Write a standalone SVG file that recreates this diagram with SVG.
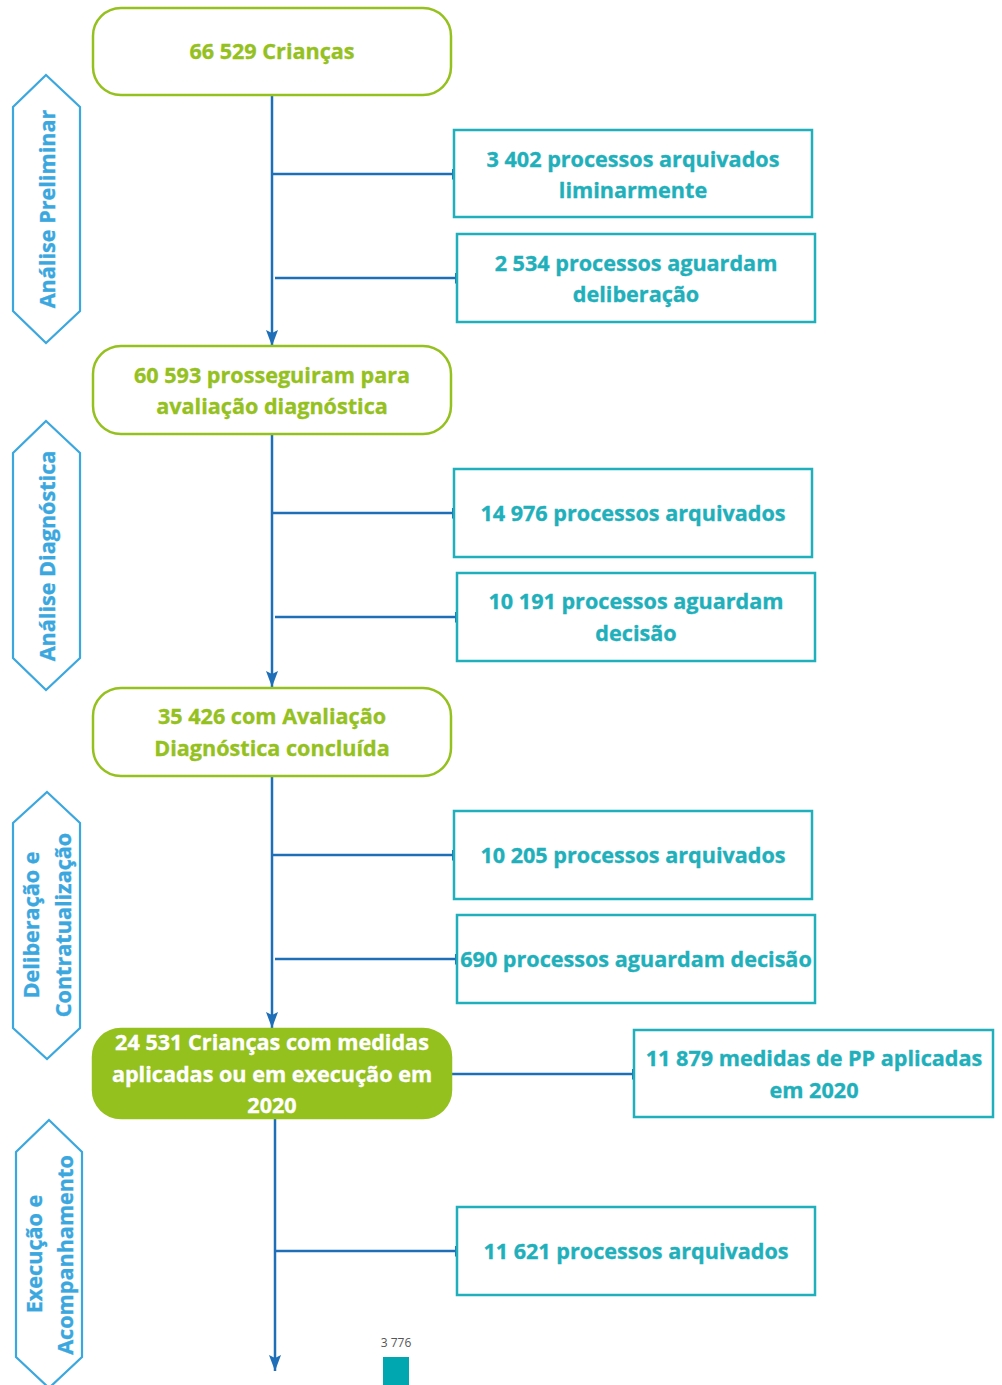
<svg xmlns="http://www.w3.org/2000/svg" width="1002" height="1385" viewBox="0 0 1002 1385">
<style>
  .gbox { fill: #ffffff; stroke: #95c11f; stroke-width: 2.5; }
  .gfill { fill: #95c11f; stroke: #95c11f; stroke-width: 2.5; }
  .tbox { fill: #ffffff; stroke: #1fb0bb; stroke-width: 2.5; }
  .hex { fill: #ffffff; stroke: #3aa7df; stroke-width: 2.2; }
  .gt, .wt, .tt, .ht { font-family: "Open Sans", "Noto Sans", sans-serif; font-weight: bold; font-size: 21.6px; text-anchor: middle; stroke-width: 0.35; }
  .gt { fill: #95c11f; stroke: #95c11f; }
  .wt { fill: #ffffff; stroke: #ffffff; }
  .tt { fill: #1fb0bb; stroke: #1fb0bb; }
  .ht { fill: #3aa7df; stroke: #3aa7df; }
  .small { font-family: "Open Sans", "Noto Sans", sans-serif; font-size: 12px; fill: #555555; text-anchor: middle; }
  .conn { stroke: #1f6fb8; stroke-width: 2.5; fill: none; }
</style>
<defs>
  <marker id="arrow" viewBox="0 0 16 12" refX="16" refY="6" markerWidth="16" markerHeight="12" markerUnits="userSpaceOnUse" orient="auto">
    <path d="M0,0 L16,6 L0,12 L3,6 z" fill="#1f6fb8"/>
  </marker>
  <marker id="tick" viewBox="0 0 3 11" refX="3" refY="5.5" markerWidth="3" markerHeight="11" markerUnits="userSpaceOnUse" orient="auto">
    <rect x="0" y="0" width="3" height="11" fill="#1f6fb8"/>
  </marker>
</defs>
<rect width="1002" height="1385" fill="#ffffff"/>

<g id="connectors">
  <line class="conn" x1="272" y1="95" x2="272" y2="346" marker-end="url(#arrow)"/>
  <line class="conn" x1="272" y1="174" x2="455" y2="174" marker-end="url(#tick)"/>
  <line class="conn" x1="275" y1="278" x2="458" y2="278" marker-end="url(#tick)"/>
  <line class="conn" x1="272" y1="434" x2="272" y2="687" marker-end="url(#arrow)"/>
  <line class="conn" x1="272" y1="513" x2="455" y2="513" marker-end="url(#tick)"/>
  <line class="conn" x1="275" y1="617" x2="458" y2="617" marker-end="url(#tick)"/>
  <line class="conn" x1="272" y1="776" x2="272" y2="1028" marker-end="url(#arrow)"/>
  <line class="conn" x1="272" y1="855" x2="455" y2="855" marker-end="url(#tick)"/>
  <line class="conn" x1="275" y1="959" x2="458" y2="959" marker-end="url(#tick)"/>
  <line class="conn" x1="452" y1="1074" x2="635" y2="1074" marker-end="url(#tick)"/>
  <line class="conn" x1="275" y1="1118" x2="275" y2="1371" marker-end="url(#arrow)"/>
  <line class="conn" x1="275" y1="1251" x2="458" y2="1251" marker-end="url(#tick)"/>
</g>

<g id="stage-analise-preliminar">
  <polygon class="hex" points="46,75 80,107 80,311 46,343 13,311 13,107"/>
  <text class="ht" transform="translate(55,209) rotate(-90)">Análise Preliminar</text>
</g>
<g id="stage-analise-diagnostica">
  <polygon class="hex" points="46,421 80,453 80,658 46,690 13,658 13,453"/>
  <text class="ht" transform="translate(55,556) rotate(-90)">Análise Diagnóstica</text>
</g>
<g id="stage-deliberacao">
  <polygon class="hex" points="47,792 80,823 80,1028 47,1059 13,1028 13,823"/>
  <text class="ht" transform="translate(39,925) rotate(-90)">Deliberação e</text>
  <text class="ht" transform="translate(71,925) rotate(-90)">Contratualização</text>
</g>
<g id="stage-execucao">
  <polygon class="hex" points="49,1120 82,1152 82,1357 49,1388 16,1357 16,1152"/>
  <text class="ht" transform="translate(42,1254) rotate(-90)">Execução e</text>
  <text class="ht" transform="translate(73,1255) rotate(-90)">Acompanhamento</text>
</g>

<g id="node-criancas">
  <rect class="gbox" x="93" y="8" width="358" height="87" rx="28"/>
  <text class="gt" x="272" y="59">66 529 Crianças</text>
</g>
<g id="node-arquivados-liminar">
  <rect class="tbox" x="454" y="130" width="358" height="87"/>
  <text class="tt" x="633" y="167">3 402 processos arquivados</text>
  <text class="tt" x="633" y="198">liminarmente</text>
</g>
<g id="node-aguardam-deliberacao">
  <rect class="tbox" x="457" y="234" width="358" height="88"/>
  <text class="tt" x="636" y="271">2 534 processos aguardam</text>
  <text class="tt" x="636" y="302">deliberação</text>
</g>
<g id="node-prosseguiram">
  <rect class="gbox" x="93" y="346" width="358" height="88" rx="28"/>
  <text class="gt" x="272" y="383">60 593 prosseguiram para</text>
  <text class="gt" x="272" y="414">avaliação diagnóstica</text>
</g>
<g id="node-arquivados-diag">
  <rect class="tbox" x="454" y="469" width="358" height="88"/>
  <text class="tt" x="633" y="521">14 976 processos arquivados</text>
</g>
<g id="node-aguardam-decisao-diag">
  <rect class="tbox" x="457" y="573" width="358" height="88"/>
  <text class="tt" x="636" y="609">10 191 processos aguardam</text>
  <text class="tt" x="636" y="641">decisão</text>
</g>
<g id="node-avaliacao-concluida">
  <rect class="gbox" x="93" y="688" width="358" height="88" rx="28"/>
  <text class="gt" x="272" y="724">35 426 com Avaliação</text>
  <text class="gt" x="272" y="756">Diagnóstica concluída</text>
</g>
<g id="node-arquivados-delib">
  <rect class="tbox" x="454" y="811" width="358" height="88"/>
  <text class="tt" x="633" y="863">10 205 processos arquivados</text>
</g>
<g id="node-aguardam-decisao-delib">
  <rect class="tbox" x="457" y="915" width="358" height="88"/>
  <text class="tt" x="636" y="967">690 processos aguardam decisão</text>
</g>
<g id="node-medidas-aplicadas">
  <rect class="gfill" x="93" y="1029" width="358" height="89" rx="28"/>
  <text class="wt" x="272" y="1050">24 531 Crianças com medidas</text>
  <text class="wt" x="272" y="1082">aplicadas ou em execução em</text>
  <text class="wt" x="272" y="1113">2020</text>
</g>
<g id="node-medidas-pp">
  <rect class="tbox" x="634" y="1030" width="359" height="87"/>
  <text class="tt" x="814" y="1066">11 879 medidas de PP aplicadas</text>
  <text class="tt" x="814" y="1098">em 2020</text>
</g>
<g id="node-arquivados-exec">
  <rect class="tbox" x="457" y="1207" width="358" height="88"/>
  <text class="tt" x="636" y="1259">11 621 processos arquivados</text>
</g>
<g id="bar-3776">
  <text class="small" x="396" y="1347">3 776</text>
  <rect x="383" y="1357" width="26" height="28" fill="#00a6b0"/>
</g>
</svg>
